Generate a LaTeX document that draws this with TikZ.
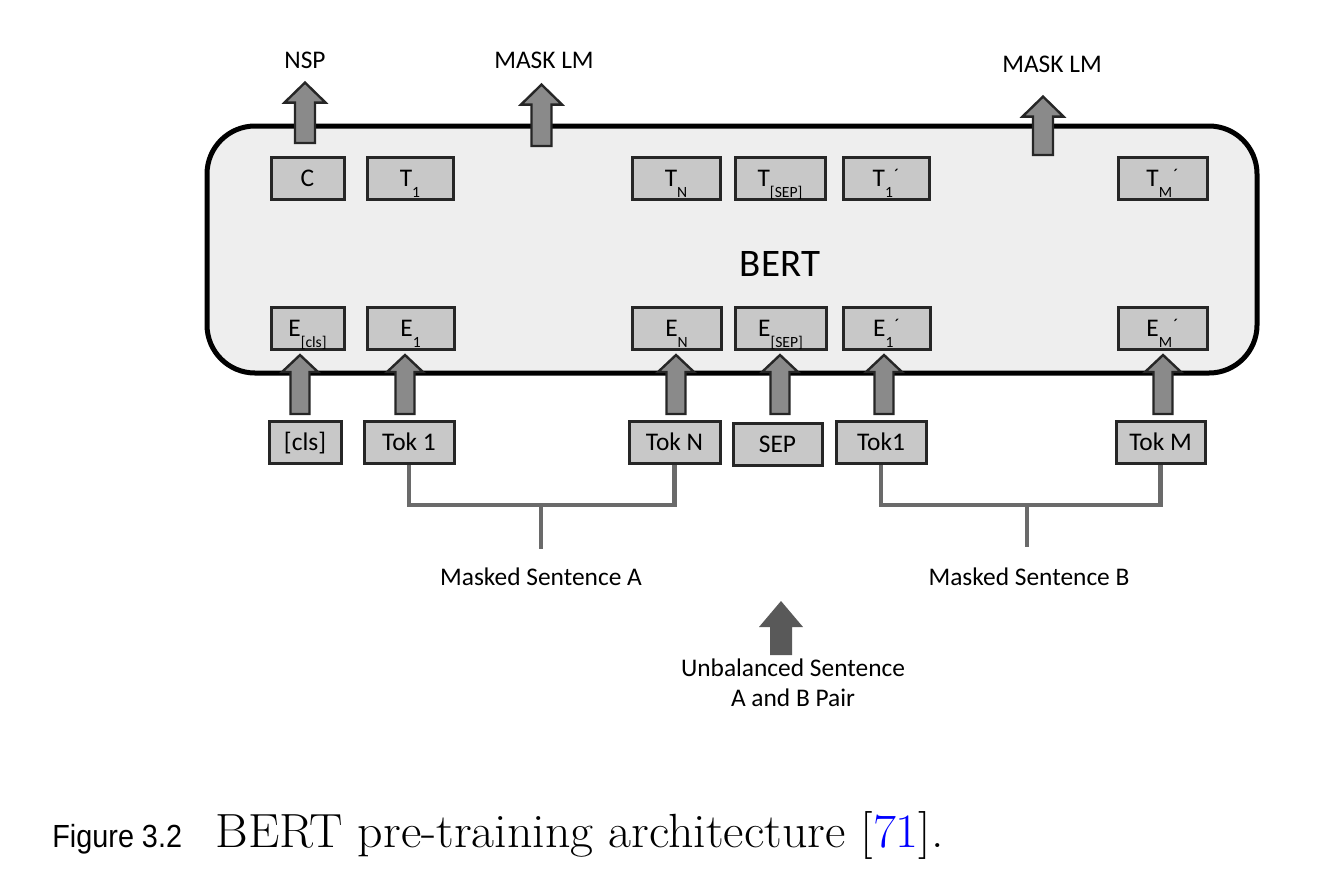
\documentclass[tikz,border=0pt]{standalone}
\usepackage{fontspec}
\newfontfamily\dfont{Carlito}
\newfontfamily\capfont{Liberation Sans}
\usetikzlibrary{calc}
\definecolor{boxfill}{HTML}{C8C8C8}
\definecolor{bertfill}{HTML}{EEEEEE}
\definecolor{arrfill}{HTML}{8A8A8A}
\definecolor{darkarr}{HTML}{595959}
\definecolor{brk}{HTML}{6A6A6A}
\definecolor{refblue}{HTML}{0000FF}
\newcommand\subl[1]{\raisebox{-5.5pt}{\fontsize{7.8}{8}\selectfont #1}}
\newcommand\prm{\kern0.6pt\raisebox{2.5pt}{\fontsize{9}{9}\selectfont ´}}
% #1 style, #2 foot, #3 tip, #4 shaft half width, #5 head half width, #6 head length
\newcommand\blockup[6]{%
  \path[#1] let \p1=(#2), \p2=(#3) in
   (\x1-#4,\y1) -- (\x1+#4,\y1) -- (\x1+#4,\y2-#6) -- (\x1+#5,\y2-#6) -- (\x1,\y2)
   -- (\x1-#5,\y2-#6) -- (\x1-#4,\y2-#6) -- cycle;}
\begin{document}
\begin{tikzpicture}[x=0.5pt,y=-0.5pt,
  font=\dfont\fontsize{12.7}{15}\selectfont,
  box/.style={draw=black!85, line width=1.5pt, fill=boxfill, minimum height=21pt,
    inner sep=0pt, text height=8pt, text depth=0pt},
  lbl/.style={anchor=base, inner sep=0pt},
  barrow/.style={draw=black!85, line width=1.2pt, fill=arrfill, line join=miter},
  darrow/.style={fill=darkarr},
  bracket/.style={draw=brk, line width=2.2pt}]
\useasboundingbox (0,0) rectangle (1326,880);
\fill[white] (0,0) rectangle (1326,880);

% main BERT block
\node[draw=black, line width=2.5pt, fill=bertfill, rounded corners=24pt,
  minimum width=525pt, minimum height=123.5pt, inner sep=0pt] (bert) at (732,249.5) {};
\node[lbl, font=\dfont\fontsize{19.5}{20}\selectfont] (berttext) at (780,276) {BERT};

% top row
\node[box, minimum width=36.5pt] (c)    at (307.5,178) {C};
\node[box, minimum width=43pt]   (t1)   at (410,178)   {T\subl{1}};
\node[box, minimum width=44pt]   (tn)   at (676,178)   {T\subl{N}};
\node[box, minimum width=45pt]   (tsep) at (780,178)   {T\subl{[SEP]}};
\node[box, minimum width=43pt]   (t1b)  at (886,178)   {T\subl{1}\prm};
\node[box, minimum width=44.5pt] (tmb)  at (1162.5,178){T\subl{M}\prm};

% embedding row
\node[box, minimum width=36.5pt] (ecls) at (307.5,328.5) {E\subl{[cls]}};
\node[box, minimum width=43.5pt] (e1)   at (410.5,328.5) {E\subl{1}};
\node[box, minimum width=44.5pt] (en)   at (676.5,328.5) {E\subl{N}};
\node[box, minimum width=45.5pt] (esep) at (780.5,328.5) {E\subl{[SEP]}};
\node[box, minimum width=43.5pt] (e1b)  at (886.5,328.5) {E\subl{1}\prm};
\node[box, minimum width=44.5pt] (emb)  at (1162.5,328.5){E\subl{M}\prm};

% token row
\node[box, minimum width=36pt]   (tcls)  at (305,442.5)   {[cls]};
\node[box, minimum width=45pt]   (tok1)  at (409,442.5)   {Tok 1};
\node[box, minimum width=45.5pt] (tokn)  at (674.5,442.5) {Tok N};
\node[box, minimum width=44.5pt] (sep)   at (777.5,444.5) {SEP};
\node[box, minimum width=45pt]   (tok1b) at (881,442.5)   {Tok1};
\node[box, minimum width=44.5pt] (tokm)  at (1160.5,442.5){Tok M};

% input arrows
\blockup{barrow}{$(tcls.north)+(-5,-6)$}{$(ecls.south)+(0,4)$}{4.75pt}{9pt}{8.5pt}
\blockup{barrow}{$(tok1.north)+(-4,-6)$}{$(e1.south)+(0,4)$}{4.75pt}{9pt}{8.5pt}
\blockup{barrow}{$(tokn.north)+(1.5,-6)$}{$(en.south)+(0,4)$}{4.75pt}{9pt}{8.5pt}
\blockup{barrow}{$(sep.north)+(2.5,-8)$}{$(esep.south)+(0,4)$}{4.75pt}{9pt}{8.5pt}
\blockup{barrow}{$(tok1b.north)+(3,-6)$}{$(e1b.south)+(0,4)$}{4.75pt}{9pt}{8.5pt}
\blockup{barrow}{$(tokm.north)+(2.5,-6)$}{$(emb.south)+(0,4)$}{4.75pt}{9pt}{8.5pt}

% output labels and arrows
\node[lbl] (nsp) at (305,68) {NSP};
\node[lbl] (mlm1) at (544,68) {MASK LM};
\node[lbl] (mlm2) at (1052,72) {MASK LM};
\coordinate (nspfoot) at (305,143);
\coordinate (mlm1foot) at (541.5,146);
\coordinate (mlm2foot) at (1043,155);
\blockup{barrow}{nspfoot}{$(nsp.south)+(0,14)$}{5pt}{10.25pt}{10pt}
\blockup{barrow}{mlm1foot}{$(mlm1.south)+(0,16)$}{5pt}{10.25pt}{10pt}
\blockup{barrow}{mlm2foot}{$(mlm2.south)+(0,24)$}{5pt}{10.25pt}{10pt}

% sentence brackets
\node[lbl] (ma) at (541,585) {Masked Sentence A};
\node[lbl] (mb) at (1029,585) {Masked Sentence B};
\coordinate (brA) at (541,505);
\coordinate (brB) at (1027,505);
\draw[bracket] (tok1.south) -- (tok1.south |- brA) -- (tokn.south |- brA) -- (tokn.south);
\draw[bracket] (brA) -- ($(ma.north)+(0,-18)$);
\draw[bracket] (tok1b.south) -- (tok1b.south |- brB) -- (tokm.south |- brB) -- (tokm.south);
\draw[bracket] (brB) -- ($(mb.north)+(-2,-20)$);

% unbalanced pair
\node[inner sep=0pt, align=center] (unb) at (793,682.5) {Unbalanced Sentence\\A and B Pair};
\coordinate (unbfoot) at ($(unb.north)+(-12,-3)$);
\coordinate (unbtip) at (781,601);
\blockup{darrow}{unbfoot}{unbtip}{5.5pt}{11pt}{13pt}

% caption
\node[anchor=base west, inner sep=0pt] (figlab) at (52,847)
  {\scalebox{0.9}[1]{\capfont\fontsize{16}{18}\selectfont Figure 3.2}};
\node[anchor=base west, inner sep=0pt] (cap) at (215,847)
  {\scalebox{1.04}[1]{\rmfamily\fontsize{24}{28}\selectfont BERT pre-training architecture [\textcolor{refblue}{71}].}};
\end{tikzpicture}
\end{document}
